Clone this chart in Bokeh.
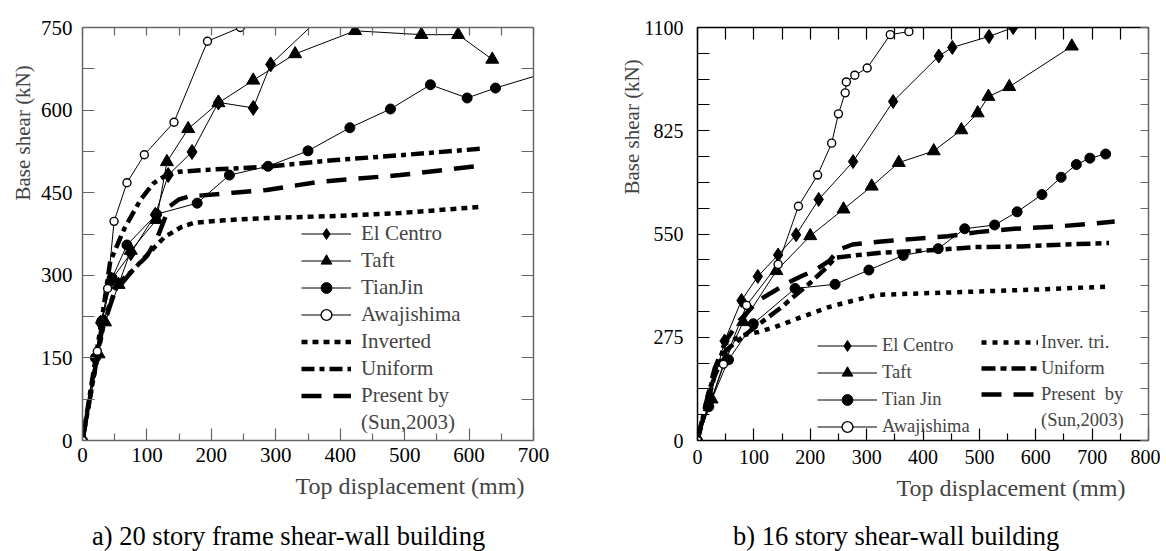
import numpy as np
from bokeh.plotting import figure
from bokeh.models import (FixedTicker, LinearAxis, Legend, LegendItem, Title, Range1d, Div)
from bokeh.layouts import row, column
from bokeh.embed import file_html
from bokeh.resources import INLINE

# ---------------- data: a) 20 story frame shear-wall building ----------------
a_elcentro_x = [0, 20, 28, 45, 75, 113, 133, 170, 211, 265, 292, 380]
a_elcentro_y = [0, 150, 214, 292, 340, 410, 482, 524, 614, 604, 683, 780]
a_taft_x = [0, 25, 35, 56, 75, 115, 131, 164, 211, 265, 330, 423, 526, 583, 636]
a_taft_y = [0, 157, 215, 283, 345, 401, 506, 566, 613, 654, 702, 744, 737, 737, 692]
a_tianjin_x = [0, 20, 30, 46, 69, 115, 178, 228, 288, 350, 415, 478, 540, 597, 641, 720]
a_tianjin_y = [0, 150, 217, 295, 355, 411, 431, 482, 498, 526, 568, 602, 646, 622, 640, 668]
a_awaji_x = [0, 23, 39, 49, 69, 96, 142, 194, 245]
a_awaji_y = [0, 162, 276, 398, 468, 519, 578, 725, 750]
a_inv_x = [0, 15, 35, 55, 79, 105, 128, 154, 172, 220, 286, 400, 493, 615]
a_inv_y = [0, 100, 225, 285, 310, 343, 370, 388, 395, 400, 404, 408, 413, 424]
a_uni_x = [0, 15, 30, 43, 65, 90, 110, 130, 150, 200, 286, 389, 493, 620]
a_uni_y = [0, 110, 220, 325, 385, 437, 467, 482, 488, 492, 497, 509, 518, 530]
a_pres_x = [0, 15, 30, 50, 75, 100, 115, 125, 135, 150, 165, 234, 286, 369, 493, 625]
a_pres_y = [0, 100, 200, 270, 305, 335, 365, 395, 425, 438, 443, 450, 455, 470, 482, 500]
a_xticks = [0, 100, 200, 300, 400, 500, 600, 700]
a_yticks = [0, 150, 300, 450, 600, 750]

# ---------------- data: b) 16 story shear-wall building ----------------
b_elcentro_x = [0, 20, 48, 78, 107, 143, 175, 215, 276, 347, 428, 452, 517, 560]
b_elcentro_y = [0, 100, 265, 373, 437, 494, 548, 642, 743, 903, 1024, 1047, 1076, 1100]
b_taft_x = [0, 25, 50, 81, 140, 200, 259, 309, 357, 419, 468, 497, 516, 553, 664]
b_taft_y = [0, 110, 215, 316, 452, 545, 616, 677, 740, 771, 827, 872, 916, 942, 1050]
b_tianjin_x = [0, 20, 55, 99, 173, 244, 304, 365, 427, 474, 527, 567, 611, 645, 672, 696, 724]
b_tianjin_y = [0, 90, 215, 311, 405, 416, 454, 493, 511, 564, 574, 609, 655, 701, 735, 752, 763]
b_awaji_x = [0, 46, 87, 143, 179, 213, 238, 250, 262, 264, 279, 301, 342, 375]
b_awaji_y = [0, 203, 360, 469, 624, 707, 792, 870, 926, 955, 973, 992, 1081, 1089]
b_inv_x = [0, 20, 49, 80, 108, 137, 185, 232, 280, 320, 400, 500, 600, 730]
b_inv_y = [0, 130, 258, 280, 289, 302, 329, 355, 374, 388, 392, 397, 402, 410]
b_uni_x = [0, 12, 30, 50, 84, 126, 149, 173, 200, 225, 245, 285, 326, 427, 491, 574, 651, 730]
b_uni_y = [0, 70, 170, 240, 281, 329, 355, 386, 420, 455, 487, 494, 500, 508, 515, 517, 522, 526]
b_pres_x = [0, 12, 30, 50, 75, 108, 137, 161, 185, 210, 235, 250, 275, 326, 385, 444, 497, 562, 639, 740]
b_pres_y = [0, 80, 190, 265, 320, 373, 399, 421, 438, 455, 480, 508, 522, 530, 537, 544, 555, 564, 570, 583]
b_xticks = [0, 100, 200, 300, 400, 500, 600, 700, 800]
b_yticks = [0, 275, 550, 825, 1100]

captions = ["a) 20 story frame shear-wall building", "b) 16 story shear-wall building"]

FONT = "Liberation Serif"
H = 508
CAP_H = 42


def style_axis(ax, color, maj_in, min_in, labels=True, fs="21px", standoff=8):
    ax.axis_line_color = color
    ax.axis_line_width = 1.5
    ax.major_tick_line_color = color
    ax.minor_tick_line_color = color
    ax.major_tick_line_width = 1.2
    ax.minor_tick_line_width = 1.2
    ax.major_tick_in = maj_in
    ax.major_tick_out = 0
    ax.minor_tick_in = min_in
    ax.minor_tick_out = 0
    ax.major_label_text_font = FONT
    if labels:
        ax.major_label_text_color = "black"
        ax.major_label_text_font_size = fs
        ax.major_label_standoff = standoff
    else:
        ax.major_label_text_color = None
        ax.major_label_text_font_size = "1px"
        ax.major_label_standoff = 0


def make_fig(width, xr, yr, xt, yt, xminor, yminor, borders, color_main, color_r,
             tick_len, fs):
    p = figure(width=width, height=H, output_backend="svg", toolbar_location=None,
               x_range=Range1d(*xr), y_range=Range1d(*yr),
               min_border_left=borders[0], min_border_right=borders[1],
               min_border_top=borders[2], min_border_bottom=borders[3])
    p.outline_line_color = None
    p.xgrid.visible = False
    p.ygrid.visible = False
    p.xaxis.ticker = FixedTicker(ticks=xt, minor_ticks=xminor)
    p.yaxis.ticker = FixedTicker(ticks=yt, minor_ticks=yminor)
    style_axis(p.xaxis[0], color_main, tick_len["bottom"][0], tick_len["bottom"][1],
               fs=fs, standoff=tick_len["xstand"])
    style_axis(p.yaxis[0], color_main, tick_len["left"][0], tick_len["left"][1],
               fs=fs, standoff=tick_len["ystand"])
    top = LinearAxis(ticker=FixedTicker(ticks=xt, minor_ticks=xminor))
    style_axis(top, color_main, tick_len["top"][0], tick_len["top"][1], labels=False)
    p.add_layout(top, "above")
    right = LinearAxis(ticker=FixedTicker(ticks=yt, minor_ticks=yminor))
    style_axis(right, color_r, tick_len["right"][0], tick_len["right"][1], labels=False)
    p.add_layout(right, "right")
    return p


def add_series(p, x, y, marker, size, fill="black", lw=1.0, mlw=1.0):
    r1 = p.line(x, y, line_color="black", line_width=lw)
    r2 = p.scatter(x, y, marker=marker, size=size, fill_color=fill,
                   line_color="black", line_width=mlw)
    return [r1, r2]


def add_thick(p, x, y, dash, lw):
    return [p.line(x, y, line_color="black", line_width=lw, line_dash=dash,
                   line_cap="butt", line_join="round")]


def add_titles(p, ylabel, y_off, y_stand, xlabel, x_off, x_stand):
    p.add_layout(Title(text=ylabel, align="left", offset=y_off, standoff=y_stand,
                       text_font=FONT, text_font_size="21px",
                       text_font_style="normal"), "left")
    p.add_layout(Title(text=xlabel, align="left", offset=x_off, standoff=x_stand,
                       text_font=FONT, text_font_size="24px",
                       text_font_style="normal"), "below")


def caption_div(text, width, pad_left):
    html = ('<div style="font-family:\'Liberation Serif\',serif;font-size:26.5px;'
            'line-height:28px;color:black;white-space:nowrap;margin:0;'
            'padding:14px 0 0 %dpx;">%s</div>' % (pad_left, text))
    return Div(text=html, width=width, height=CAP_H, margin=0)


# ---------------- figure a ----------------
W1 = 620
pa = make_fig(W1, (0, 700), (0, 750), a_xticks, a_yticks,
              list(range(50, 700, 100)), list(range(75, 750, 150)),
              (82, 87, 25, H - 440), "#666666", "#666666",
              {"bottom": (12, 7), "left": (12, 12), "top": (8, 8), "right": (12, 12),
               "xstand": 7, "ystand": 10}, "21px")

ra_inv = add_thick(pa, a_inv_x, a_inv_y, "6 5", 4.5)
ra_uni = add_thick(pa, a_uni_x, a_uni_y, "13 5 5 5", 4.5)
ra_pres = add_thick(pa, a_pres_x, a_pres_y, "20 12", 4.5)
ra_el = add_series(pa, a_elcentro_x, a_elcentro_y, "diamond", 15)
ra_taft = add_series(pa, a_taft_x, a_taft_y, "triangle", 13)
ra_tj = add_series(pa, a_tianjin_x, a_tianjin_y, "circle", 10)
ra_aw = add_series(pa, a_awaji_x, a_awaji_y, "circle", 8, fill="white", mlw=1.4)
ra_dummy = [pa.line(x=[], y=[], line_alpha=0)]

leg_a = Legend(items=[
    LegendItem(label="El Centro", renderers=ra_el),
    LegendItem(label="Taft", renderers=ra_taft),
    LegendItem(label="TianJin", renderers=ra_tj),
    LegendItem(label="Awajishima", renderers=ra_aw),
    LegendItem(label="Inverted", renderers=ra_inv),
    LegendItem(label="Uniform", renderers=ra_uni),
    LegendItem(label="Present by", renderers=ra_pres),
    LegendItem(label="(Sun,2003)", renderers=ra_dummy),
], location=(219, 4), background_fill_alpha=0, border_line_alpha=0,
    label_text_font=FONT, label_text_font_size="21px", glyph_width=50,
    glyph_height=27, label_height=27, spacing=0, padding=0, margin=0,
    label_standoff=10)
pa.add_layout(leg_a, "center")

add_titles(pa, "Base shear (kN)", 240, 6, "Top displacement (mm)", 213, 13)

# ---------------- figure b ----------------
W2 = 540
pb = make_fig(W2, (0, 800), (0, 1100), b_xticks, b_yticks,
              list(range(50, 800, 100)), [68.75 * k for k in range(1, 16) if k % 4],
              (76, 12, 27, H - 445), "black", "#666666",
              {"bottom": (12, 7), "left": (12, 12), "top": (12, 12), "right": (8, 8),
               "xstand": 9, "ystand": 14}, "20px")

rb_inv = add_thick(pb, b_inv_x, b_inv_y, "5 6", 4.5)
rb_uni = add_thick(pb, b_uni_x, b_uni_y, "14 5 6 5", 4.5)
rb_pres = add_thick(pb, b_pres_x, b_pres_y, "20 12", 4.5)
rb_el = add_series(pb, b_elcentro_x, b_elcentro_y, "diamond", 14)
rb_taft = add_series(pb, b_taft_x, b_taft_y, "triangle", 13)
rb_tj = add_series(pb, b_tianjin_x, b_tianjin_y, "circle", 10)
rb_aw = add_series(pb, b_awaji_x, b_awaji_y, "circle", 8, fill="white", mlw=1.4)
rb_dummy = [pb.line(x=[], y=[], line_alpha=0)]

leg_b1 = Legend(items=[
    LegendItem(label="El Centro", renderers=rb_el),
    LegendItem(label="Taft", renderers=rb_taft),
    LegendItem(label="Tian Jin", renderers=rb_tj),
    LegendItem(label="Awajishima", renderers=rb_aw),
], location=(120, 0), background_fill_alpha=0, border_line_alpha=0,
    label_text_font=FONT, label_text_font_size="18.5px", glyph_width=60,
    glyph_height=27, label_height=27, spacing=0, padding=0, margin=0,
    label_standoff=5)
leg_b2 = Legend(items=[
    LegendItem(label="Inver. tri.", renderers=rb_inv),
    LegendItem(label="Uniform", renderers=rb_uni),
    LegendItem(label="Present  by", renderers=rb_pres),
    LegendItem(label="(Sun,2003)", renderers=rb_dummy),
], location=(284, 7), background_fill_alpha=0, border_line_alpha=0,
    label_text_font=FONT, label_text_font_size="18.5px", glyph_width=57,
    glyph_height=26, label_height=26, spacing=0, padding=0, margin=0,
    label_standoff=3)
pb.add_layout(leg_b1, "center")
pb.add_layout(leg_b2, "center")

add_titles(pb, "Base shear (kN)", 246, -5, "Top displacement (mm)", 199, 13)

cap_a = caption_div(captions[0], W1, 92)
cap_b = caption_div(captions[1], W2, 733 - W1)

layout = column(row(pa, pb, spacing=0), row(cap_a, cap_b, spacing=0), spacing=0)
open("out.html", "w").write(file_html(layout, INLINE))
